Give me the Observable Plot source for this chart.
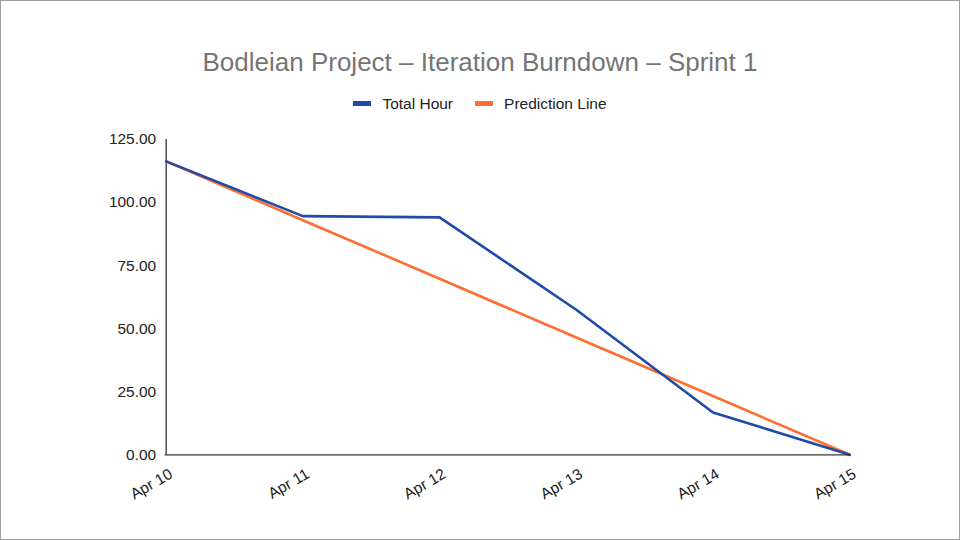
<!DOCTYPE html>
<html><head><meta charset="utf-8">
<script src="https://cdn.jsdelivr.net/npm/d3@7"></script>
<script src="https://cdn.jsdelivr.net/npm/@observablehq/plot@0.6"></script>
<style>
body{margin:0;background:#fff;}
#frame{width:960px;height:540px;box-sizing:border-box;border:1px solid #9e9e9e;position:relative;overflow:hidden;font-family:"Liberation Sans",Arial,sans-serif;}
#title{position:absolute;top:46px;left:0;width:100%;text-align:center;font-size:26px;line-height:30px;color:#757575;}
#legend{position:absolute;top:91px;left:0;width:100%;text-align:center;font-size:15.5px;line-height:18px;color:#222;}
.item{display:inline-flex;align-items:center;margin:0 11px;}
.sw{display:inline-block;width:18px;height:5px;margin-right:11px;}
#chart{position:absolute;top:120px;left:0;}
</style></head>
<body>
<div id="frame">
<div id="title">Bodleian Project – Iteration Burndown – Sprint 1</div>
<div id="legend"><span class="item"><span class="sw" style="background:#1f4aa8"></span>Total Hour</span><span class="item"><span class="sw" style="background:#ff6d31"></span>Prediction Line</span></div>
<div id="chart"></div>
</div>
<script>
const dates = ["Apr 10","Apr 11","Apr 12","Apr 13","Apr 14","Apr 15"];
const totalHour = [116.3, 94.6, 94.1, 57.5, 16.8, 0];
const prediction = [116.3, 93.0, 69.8, 46.5, 23.3, 0];
const yTicks = [0, 25, 50, 75, 100, 125];

const rows = [];
dates.forEach((d,i)=>{
  rows.push({date:d, value:totalHour[i], series:"Total Hour"});
  rows.push({date:d, value:prediction[i], series:"Prediction Line"});
});

const plot = Plot.plot({
  width: 960, height: 420,
  marginLeft: 164, marginRight: 110, marginTop: 18, marginBottom: 86,
  style: {fontFamily: '"Liberation Sans",Arial,sans-serif', fontSize: "15.5px", color: "#222", background: "transparent"},
  x: {type: "point", domain: dates, padding: 0, label: null},
  y: {domain: [0, 125], label: null},
  color: {domain: ["Total Hour","Prediction Line"], range: ["#1f4aa8","#ff6d31"]},
  marks: [
    Plot.axisY({ticks: yTicks, tickFormat: d => d.toFixed(2), tickSize: 0, tickPadding: 9, fontSize: 15.5, label: null}),
    Plot.axisX({tickSize: 0, tickRotate: -30, tickPadding: 10, fontSize: 15.5, dx: 5, dy: 8, label: null}),
    Plot.ruleX([dates[0]], {y1: 0, y2: 125, stroke: "#333", strokeWidth: 1.3}),
    Plot.line(rows.filter(r=>r.series==="Prediction Line"), {x: "date", y: "value", stroke: "series", strokeWidth: 2.6}),
    Plot.line(rows.filter(r=>r.series==="Total Hour"), {x: "date", y: "value", stroke: "series", strokeWidth: 2.6}),
    Plot.ruleY([0], {stroke: "#333", strokeWidth: 1.3})
  ]
});
document.getElementById("chart").appendChild(plot);
</script>
</body></html>
